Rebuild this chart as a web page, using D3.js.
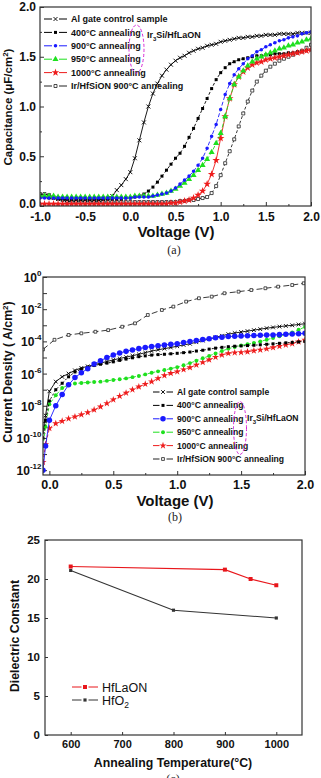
<!DOCTYPE html>
<html lang="en">
<head>
<meta charset="UTF-8">
<title>Ir3Si/HfLaON gate stack</title>
<style>
  body { margin: 0; background: #fff; }
  svg { display: block; font-family: Arial, "Liberation Sans", sans-serif; }
  .tick text { font-weight: bold; fill: #111; }
  .tick line { stroke: #333; }
  .frame { fill: none; stroke: #333; stroke-width: 1.2; }
  .title { font-weight: bold; fill: #111; text-anchor: middle; }
  .leg { fill: #111; }
  .cap { font-family: "Liberation Serif", "DejaVu Serif", serif; font-size: 12px; text-anchor: middle; fill: #222; }
</style>
</head>
<body>
<svg width="321" height="778"></svg>
<script src="https://d3js.org/d3.v7.min.js"></script>
<script>
// ---------- data: (a) C-V ----------
const voltA = [-1.0,-0.95,-0.9,-0.85,-0.8,-0.75,-0.7,-0.65,-0.6,-0.55,-0.5,-0.45,-0.4,-0.35,-0.3,-0.25,-0.2,-0.15,-0.1,-0.05,
  0,0.05,0.1,0.15,0.2,0.25,0.3,0.35,0.4,0.45,0.5,0.55,0.6,0.65,0.7,0.75,0.8,0.85,0.9,0.95,
  1.0,1.05,1.1,1.15,1.2,1.25,1.3,1.35,1.4,1.45,1.5,1.55,1.6,1.65,1.7,1.75,1.8,1.85,1.9,1.95,2.0];
const capAl = [0.10,0.10,0.09,0.08,0.07,0.07,0.06,0.06,0.06,0.06, 0.06,0.06,0.06,0.06,0.07,0.08,0.10,0.16,0.21,0.27,
  0.34,0.48,0.66,0.84,1.00,1.13,1.23,1.31,1.37,1.42, 1.46,1.49,1.51,1.54,1.56,1.58,1.59,1.61,1.62,1.63,
  1.65,1.66,1.67,1.68,1.69,1.69,1.70,1.70,1.71,1.71, 1.72,1.72,1.72,1.73,1.73,1.73,1.73,1.74,1.74,1.74, 1.74];
const cap400 = [0.09,0.09,0.08,0.08,0.07,0.07,0.07,0.07,0.07,0.07, 0.07,0.07,0.07,0.07,0.07,0.07,0.07,0.07,0.07,0.08,
  0.08,0.09,0.10,0.12,0.15,0.19,0.24,0.30,0.36,0.42, 0.48,0.53,0.60,0.69,0.78,0.88,0.98,1.08,1.18,1.27,
  1.34,1.39,1.43,1.45,1.47,1.48,1.49,1.50,1.51,1.51, 1.52,1.52,1.53,1.53,1.53,1.54,1.54,1.55,1.55,1.56, 1.57];
const cap900 = [0.08,0.08,0.08,0.08,0.08,0.08,0.08,0.08,0.08,0.08, 0.08,0.08,0.08,0.08,0.08,0.08,0.08,0.08,0.08,0.08,
  0.08,0.09,0.09,0.09,0.09,0.10,0.11,0.12,0.13,0.15, 0.18,0.22,0.26,0.30,0.35,0.41,0.48,0.58,0.70,0.82,
  0.97,1.12,1.23,1.32,1.38,1.43,1.48,1.51,1.55,1.57, 1.60,1.62,1.64,1.66,1.67,1.69,1.70,1.71,1.73,1.74, 1.75];
const cap950 = [0.10,0.10,0.10,0.10,0.09,0.09,0.09,0.09,0.09,0.09, 0.09,0.09,0.09,0.09,0.09,0.09,0.09,0.09,0.09,0.09,
  0.09,0.10,0.10,0.10,0.10,0.10,0.11,0.12,0.13,0.15, 0.17,0.20,0.23,0.27,0.31,0.36,0.41,0.47,0.54,0.63,
  0.73,0.90,1.08,1.22,1.30,1.36,1.41,1.45,1.48,1.50, 1.52,1.54,1.56,1.58,1.59,1.61,1.62,1.64,1.65,1.67, 1.68];
const cap1000 = [0.02,0.02,0.02,0.02,0.02,0.02,0.02,0.02,0.02,0.02, 0.02,0.02,0.02,0.02,0.02,0.02,0.02,0.02,0.02,0.02,
  0.02,0.02,0.02,0.02,0.02,0.02,0.02,0.02,0.02,0.03, 0.03,0.04,0.05,0.06,0.08,0.11,0.15,0.22,0.32,0.46,
  0.68,0.90,1.08,1.22,1.30,1.35,1.39,1.42,1.44,1.45, 1.47,1.48,1.49,1.50,1.51,1.52,1.53,1.54,1.55,1.56, 1.57];
const capIr = [0.12,0.12,0.11,0.09,0.08,0.06,0.05,0.04,0.04,0.04, 0.04,0.04,0.04,0.04,0.04,0.04,0.04,0.04,0.04,0.04,
  0.04,0.04,0.04,0.04,0.04,0.04,0.04,0.04,0.04,0.04, 0.04,0.05,0.05,0.06,0.06,0.07,0.08,0.09,0.13,0.20,
  0.31,0.43,0.55,0.67,0.80,0.93,1.05,1.16,1.25,1.31, 1.36,1.40,1.43,1.46,1.48,1.50,1.52,1.54,1.56,1.59, 1.62];

// ---------- data: (b) J-V, values are log10(J) ----------
const voltB = [-0.05,-0.03,0,0.05,0.1,0.15,0.2,0.25,0.3,0.35,0.4,0.45,0.5,0.55,0.6,0.65,0.7,0.75,0.8,0.85,0.9,0.95,
  1.0,1.05,1.1,1.15,1.2,1.25,1.3,1.35,1.4,1.45,1.5,1.55,1.6,1.65,1.7,1.75,1.8,1.85,1.9,1.95,2.0];
const logJAl = [-9.6,-8.6,-7.1, -6.5,-6.2,-6.0,-5.8,-5.65,-5.55,-5.45,-5.35,-5.25,-5.15,
  -5.06,-4.98,-4.89,-4.8,-4.7,-4.6,-4.52,-4.45,-4.38,-4.3, -4.22,-4.15,-4.05,-3.95,-3.85,-3.75,-3.65,-3.55,-3.48,-3.42,
  -3.36,-3.3,-3.24,-3.18,-3.13,-3.08,-3.04,-3.0,-2.95,-2.9];
const logJ400 = [-10.0,-8.9,-7.7, -7.0,-6.6,-6.2,-5.9,-5.72,-5.6,-5.5,-5.42,-5.35,-5.27,
  -5.18,-5.1,-5.02,-4.95,-4.9,-4.85,-4.82,-4.8,-4.77,-4.74, -4.7,-4.66,-4.6,-4.55,-4.48,-4.42,-4.37,-4.33,-4.3,-4.28,
  -4.26,-4.24,-4.21,-4.18,-4.15,-4.12,-4.09,-4.06,-4.03,-4.0];
const logJ900 = [-12.0,-10.5,-8.9, -8.0,-7.3,-6.7,-6.25,-5.95,-5.7,-5.4,-5.2,-5.0,-4.85,
  -4.72,-4.62,-4.53,-4.45,-4.38,-4.32,-4.27,-4.22,-4.18,-4.14, -4.07,-4.0,-3.94,-3.88,-3.83,-3.78,-3.74,-3.7,-3.68,-3.67,
  -3.65,-3.64,-3.62,-3.61,-3.6,-3.58,-3.56,-3.54,-3.52,-3.5];
const logJ950 = [-10.5,-9.3,-7.9, -7.35,-6.9,-6.7,-6.62,-6.58,-6.55,-6.52,-6.5,-6.45,-6.4,
  -6.35,-6.3,-6.22,-6.15,-6.05,-5.95,-5.86,-5.78,-5.69,-5.6, -5.48,-5.35,-5.2,-5.05,-4.9,-4.75,-4.6,-4.45,-4.35,-4.25,
  -4.18,-4.1,-4.0,-3.9,-3.79,-3.68,-3.56,-3.45,-3.28,-3.1];
const logJ1000 = [-11.5,-10.4,-9.4, -9.1,-8.95,-8.8,-8.68,-8.55,-8.42,-8.25,-8.06,-7.85,-7.62,
  -7.4,-7.2,-7.0,-6.82,-6.65,-6.5,-6.3,-6.12,-5.98,-5.88, -5.75,-5.62,-5.46,-5.3,-5.14,-4.98,-4.84,-4.74,-4.7,-4.68,
  -4.64,-4.58,-4.53,-4.46,-4.38,-4.3,-4.22,-4.14,-4.02,-3.91];
const voltIr = [-0.05,0.04,0.15,0.25,0.36,0.46,0.57,0.67,0.77,0.88,0.97,1.07,1.17,1.27,1.37,1.48,1.58,1.69,1.79,1.9,1.99];
const logJIr = [-4.5,-3.9,-3.6,-3.5,-3.4,-3.3,-3.09,-2.88,-2.36,-2.05,-1.84,-1.53,-1.32,-1.22,-1.01,-0.91,-0.81,-0.7,-0.6,-0.5,-0.39];

// ---------- data: (c) dielectric constant ----------
const tempLa = [600, 900, 950, 1000];
const kLa = [21.6, 21.2, 20.0, 19.2];
const tempHf = [600, 800, 1000];
const kHf = [21.1, 16.0, 15.0];

const svg = d3.select("svg");
const ink = "#111";

function symPath(type, size) {
  if (type === "x") {
    const a = Math.sqrt(size) / 2;
    return `M${-a},${-a}L${a},${a}M${-a},${a}L${a},${-a}`;
  }
  const t = {sq: d3.symbolSquare, osq: d3.symbolSquare, circ: d3.symbolCircle, tri: d3.symbolTriangle, star: d3.symbolStar}[type];
  return d3.symbol().type(t).size(size)();
}

function styleMark(sel, s) {
  const hollow = s.mark === "osq" || s.mark === "x";
  sel.attr("d", symPath(s.mark, s.size))
    .attr("fill", hollow ? (s.mark === "osq" ? "#fff" : "none") : s.color)
    .attr("stroke", hollow ? s.color : "none")
    .attr("stroke-width", s.mark === "x" ? 0.9 : 0.8);
}

function drawSeries(g, xs, ys, x, y, s) {
  const pts = xs.map((v, i) => [x(v), y(ys[i])]);
  g.append("path").attr("d", d3.line()(pts))
    .attr("fill", "none").attr("stroke", s.color).attr("stroke-width", s.width || 0.9)
    .attr("stroke-dasharray", s.dash);
  g.append("g").selectAll("path").data(pts).join("path")
    .attr("transform", d => `translate(${d[0]},${d[1]})`)
    .call(styleMark, s);
}

function legendRow(g, x0, x1, yy, s, label, fs, weight) {
  const mid = (x0 + x1) / 2;
  g.append("line").attr("x1", x0).attr("x2", mid - 3.5).attr("y1", yy).attr("y2", yy).attr("stroke", s.color).attr("stroke-width", 1);
  g.append("line").attr("x1", mid + 3.5).attr("x2", x1).attr("y1", yy).attr("y2", yy).attr("stroke", s.color).attr("stroke-width", 1);
  g.append("path").attr("transform", `translate(${mid},${yy})`).call(styleMark, s);
  const t = g.append("text").attr("class", "leg").attr("x", x1 + 4).attr("y", yy + fs * 0.36)
    .attr("font-size", fs).attr("font-weight", weight || "bold");
  label(t);
}

function frame(x, y) {
  const [x0, x1] = x.range(), [y0, y1] = y.range();
  svg.append("rect").attr("class", "frame").attr("x", x0).attr("y", y1).attr("width", x1 - x0).attr("height", y0 - y1);
}

function clipFor(id, x, y) {
  const [x0, x1] = x.range(), [y0, y1] = y.range();
  svg.append("clipPath").attr("id", id).append("rect").attr("x", x0).attr("y", y1).attr("width", x1 - x0).attr("height", y0 - y1);
  return svg.append("g").attr("clip-path", `url(#${id})`);
}

const fix1 = d => d.toFixed(1);

// ================= (a) =================
const xA = d3.scaleLinear().domain([-1, 2]).range([40, 311]);
const yA = d3.scaleLinear().domain([0, 2]).range([206, 7]);

svg.append("g").attr("transform", "translate(0,206)")
  .call(d3.axisBottom(xA).tickValues([-1, -0.5, 0, 0.5, 1, 1.5, 2]).tickFormat(fix1).tickSizeInner(-4).tickSizeOuter(0).tickPadding(6))
  .call(g => g.selectAll("text").attr("font-size", 12))
  .call(g => g.select(".domain").remove());
svg.append("g").attr("transform", "translate(0,206)")
  .call(d3.axisBottom(xA).tickValues([-0.75, -0.25, 0.25, 0.75, 1.25, 1.75]).tickFormat("").tickSizeInner(-2).tickSizeOuter(0))
  .call(g => g.select(".domain").remove());
svg.append("g").attr("transform", "translate(40,0)")
  .call(d3.axisLeft(yA).tickValues([0, 0.5, 1, 1.5, 2]).tickFormat(fix1).tickSizeInner(-4).tickSizeOuter(0).tickPadding(4))
  .call(g => g.selectAll("text").attr("font-size", 12).attr("dy", d => d === 0 ? "0.15em" : "0.32em"))
  .call(g => g.select(".domain").remove());
svg.append("g").attr("transform", "translate(40,0)")
  .call(d3.axisLeft(yA).tickValues([0.25, 0.75, 1.25, 1.75]).tickFormat("").tickSizeInner(-2).tickSizeOuter(0))
  .call(g => g.select(".domain").remove());

const seriesA = [
  {vals: capAl, color: "#000", mark: "x", size: 16, dash: null, label: "Al gate control sample"},
  {vals: cap400, color: "#000", mark: "sq", size: 9, dash: "3,2", label: "400°C annealing"},
  {vals: cap900, color: "#1a1aff", mark: "circ", size: 10, dash: "4,2", label: "900°C annealing"},
  {vals: cap950, color: "#1ee01e", mark: "tri", size: 16, dash: "4,2", label: "950°C annealing"},
  {vals: cap1000, color: "#ee1c1c", mark: "star", size: 18, dash: null, label: "1000°C annealing"},
  {vals: capIr, color: "#222", mark: "osq", size: 9, dash: "3,2", label: "Ir/HfSiON 900°C annealing"}
];
const gA = clipFor("clipA", xA, yA);
[5, 1, 0, 4, 3, 2].forEach(i => drawSeries(gA, voltA, seriesA[i].vals, xA, yA, seriesA[i]));
frame(xA, yA);

const legA = svg.append("g");
seriesA.forEach((s, i) => legendRow(legA, 44, 67, 19 + i * 13.4, s, t => t.text(s.label), 9));
svg.append("ellipse").attr("cx", 136.5).attr("cy", 49).attr("rx", 7.5).attr("ry", 24)
  .attr("fill", "none").attr("stroke", "#d62ad6").attr("stroke-width", 1).attr("stroke-dasharray", "3,2");
const irA = svg.append("text").attr("class", "leg").attr("font-weight", "bold").attr("x", 147).attr("y", 38).attr("font-size", 9);
irA.append("tspan").text("Ir");
irA.append("tspan").attr("font-size", 6).attr("dy", 2.5).text("3");
irA.append("tspan").attr("dy", -2.5).text("Si/HfLaON");

svg.append("text").attr("class", "title").attr("x", 176).attr("y", 237).attr("font-size", 15).text("Voltage (V)");
const ytA = svg.append("text").attr("class", "title").attr("font-size", 11.5)
  .attr("transform", "translate(12,107) rotate(-90)");
ytA.append("tspan").text("Capacitance (μF/cm");
ytA.append("tspan").attr("font-size", 8).attr("dy", -4).text("2");
ytA.append("tspan").attr("dy", 4).text(")");
svg.append("text").attr("class", "cap").attr("x", 174).attr("y", 254).text("(a)");

// ================= (b) =================
const xB = d3.scaleLinear().domain([-0.05, 2.0]).range([43, 305]);
const yB = d3.scaleLog().domain([Math.pow(10, -12.3), 1]).range([475, 277]);

svg.append("g").attr("transform", "translate(0,475)")
  .call(d3.axisBottom(xB).tickValues([0, 0.5, 1, 1.5, 2]).tickFormat(fix1).tickSizeInner(-4).tickSizeOuter(0).tickPadding(5))
  .call(g => g.selectAll("text").attr("font-size", 12.5))
  .call(g => g.select(".domain").remove());
svg.append("g").attr("transform", "translate(0,475)")
  .call(d3.axisBottom(xB).tickValues([0.25, 0.75, 1.25, 1.75]).tickFormat("").tickSizeInner(-2).tickSizeOuter(0))
  .call(g => g.select(".domain").remove());
const decades = d3.range(0, 13).map(e => Math.pow(10, -e));
svg.append("g").attr("transform", "translate(43,0)")
  .call(d3.axisLeft(yB).tickValues(decades).tickFormat("").tickSizeInner(-4).tickSizeOuter(0))
  .call(g => g.select(".domain").remove());
[0, -2, -4, -6, -8, -10, -12].forEach(e => {
  const t = svg.append("text").attr("x", 41.5).attr("y", yB(Math.pow(10, e)) + 5)
    .attr("text-anchor", "end").attr("font-weight", "bold").attr("font-size", 12).attr("fill", ink);
  t.append("tspan").text("10");
  t.append("tspan").attr("font-size", 8).attr("dy", -6).text(e === 0 ? "0" : e);
});

const seriesB = [
  {vals: logJAl, color: "#000", mark: "x", size: 14, dash: null, label: "Al gate control sample"},
  {vals: logJ400, color: "#000", mark: "sq", size: 9, dash: "2,2", label: "400°C annealing"},
  {vals: logJ900, color: "#1a1aff", mark: "circ", size: 24, dash: null, label: "900°C annealing"},
  {vals: logJ950, color: "#1ee01e", mark: "circ", size: 12, dash: "3,2", label: "950°C annealing"},
  {vals: logJ1000, color: "#ee1c1c", mark: "star", size: 16, dash: "3,2", label: "1000°C annealing"},
  {vals: logJIr, color: "#222", mark: "osq", size: 8, dash: "6,3", label: "Ir/HfSiON 900°C annealing"}
];
const toJ = arr => arr.map(v => Math.pow(10, v));
const gB = clipFor("clipB", xB, yB);
drawSeries(gB, voltIr, toJ(logJIr), xB, yB, seriesB[5]);
[4, 3, 1, 0, 2].forEach(i => drawSeries(gB, voltB, toJ(seriesB[i].vals), xB, yB, seriesB[i]));
frame(xB, yB);

const legB = svg.append("g");
seriesB.forEach((s, i) => legendRow(legB, 153, 173, 392 + i * 13.4, s, t => t.text(s.label), 8.6));
svg.append("ellipse").attr("cx", 240).attr("cy", 428).attr("rx", 6.5).attr("ry", 26.5)
  .attr("fill", "none").attr("stroke", "#d62ad6").attr("stroke-width", 1).attr("stroke-dasharray", "3,2");
const irB = svg.append("text").attr("class", "leg").attr("font-weight", "bold").attr("x", 247).attr("y", 421).attr("font-size", 8.6);
irB.append("tspan").text("Ir");
irB.append("tspan").attr("font-size", 6).attr("dy", 2.5).text("3");
irB.append("tspan").attr("dy", -2.5).text("Si/HfLaON");

svg.append("text").attr("class", "title").attr("x", 175).attr("y", 506).attr("font-size", 15).text("Voltage (V)");
const ytB = svg.append("text").attr("class", "title").attr("font-size", 12.3)
  .attr("transform", "translate(12,372) rotate(-90)");
ytB.append("tspan").text("Current Density ( A/cm");
ytB.append("tspan").attr("font-size", 8).attr("dy", -4).text("2");
ytB.append("tspan").attr("dy", 4).text(")");
svg.append("text").attr("class", "cap").attr("x", 175).attr("y", 521).text("(b)");

// ================= (c) =================
const xC = d3.scaleLinear().domain([550, 1050]).range([45, 302]);
const yC = d3.scaleLinear().domain([0, 25]).range([735, 540]);

svg.append("g").attr("transform", "translate(0,735)")
  .call(d3.axisBottom(xC).tickValues([600, 700, 800, 900, 1000]).tickFormat(d => String(d)).tickSizeInner(-3).tickSizeOuter(0).tickPadding(5))
  .call(g => g.selectAll("text").attr("font-size", 11))
  .call(g => g.select(".domain").remove());
svg.append("g").attr("transform", "translate(45,0)")
  .call(d3.axisLeft(yC).tickValues([0, 5, 10, 15, 20, 25]).tickSizeInner(-3).tickSizeOuter(0).tickPadding(5))
  .call(g => g.selectAll("text").attr("font-size", 11.5))
  .call(g => g.select(".domain").remove());

const sLa = {color: "#e8161b", mark: "sq", size: 16, dash: null, width: 1.2};
const sHf = {color: "#333", mark: "sq", size: 10, dash: null, width: 1.1};
drawSeries(svg.append("g"), tempHf, kHf, xC, yC, sHf);
drawSeries(svg.append("g"), tempLa, kLa, xC, yC, sLa);
frame(xC, yC);

const legC = svg.append("g");
legendRow(legC, 72, 98, 687, sLa, t => t.text("HfLaON"), 12.5, "normal");
legendRow(legC, 72, 98, 700, sHf, t => {
  t.append("tspan").text("HfO");
  t.append("tspan").attr("font-size", 8.5).attr("dy", 3).text("2");
}, 12.5, "normal");

svg.append("text").attr("class", "title").attr("x", 173).attr("y", 767).attr("font-size", 12.3).text("Annealing Temperature(°C)");
svg.append("text").attr("class", "title").attr("font-size", 12.3)
  .attr("transform", "translate(19,636) rotate(-90)").text("Dielectric Constant");
svg.append("text").attr("class", "cap").attr("x", 173).attr("y", 783).text("(c)");
</script>
</body>
</html>
